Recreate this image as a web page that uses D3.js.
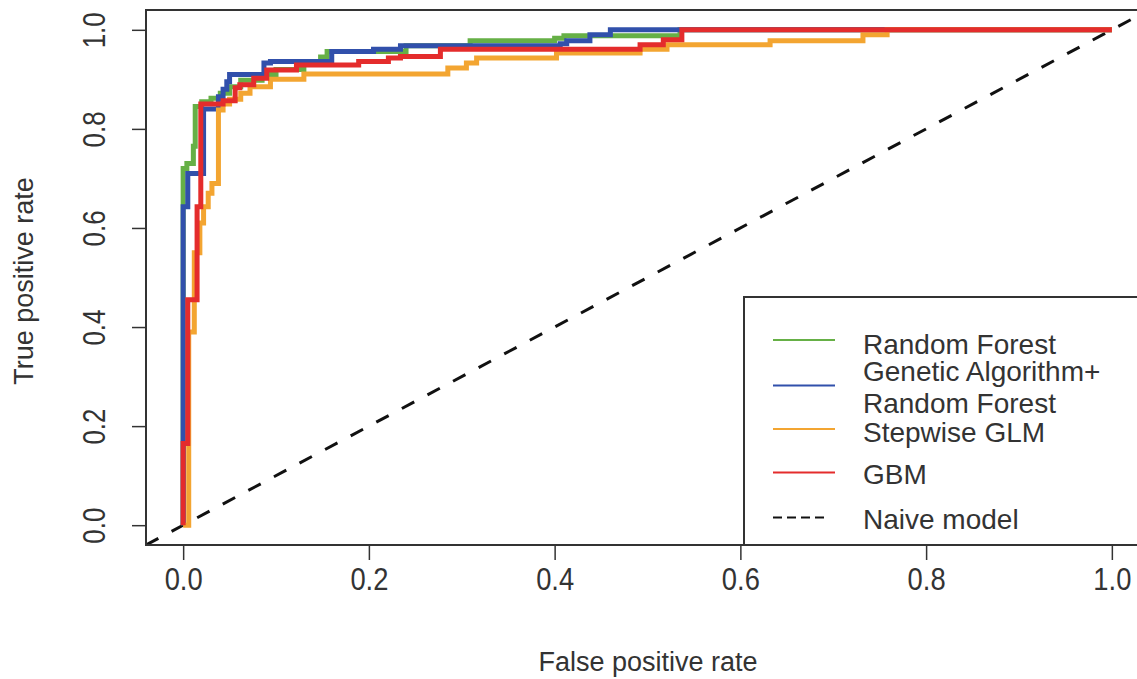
<!DOCTYPE html>
<html>
<head>
<meta charset="utf-8">
<script src="https://cdn.jsdelivr.net/npm/d3@7"></script>
<style>
  body { margin: 0; background: #fff; }
  text { font-family: "Liberation Sans", Arial, sans-serif; fill: #333; }
</style>
</head>
<body>
<svg width="1137" height="679"></svg>
<script>
// tick values on both axes
var tickVals = [0, 0.2, 0.4, 0.6, 0.8, 1.0];
var tickLabels = ["0.0", "0.2", "0.4", "0.6", "0.8", "1.0"];

// ROC corner points [fpr, tpr]
var rfPts = [[0,0],[0,0.72],[0.004,0.72],[0.004,0.73],[0.011,0.73],[0.011,0.765],[0.013,0.765],[0.013,0.845],
  [0.02,0.845],[0.02,0.855],[0.03,0.855],[0.03,0.862],[0.04,0.862],[0.04,0.872],[0.05,0.872],[0.05,0.885],
  [0.062,0.885],[0.062,0.898],[0.085,0.898],[0.085,0.91],[0.1,0.91],[0.1,0.92],[0.13,0.92],[0.13,0.93],
  [0.148,0.93],[0.148,0.945],[0.155,0.945],[0.155,0.956],[0.24,0.956],[0.24,0.968],[0.309,0.968],[0.309,0.978],
  [0.4,0.978],[0.4,0.983],[0.41,0.983],[0.41,0.988],[0.535,0.988],[0.535,1],[1,1]];

var gaRfPts = [[0,0],[0,0.643],[0.005,0.643],[0.005,0.71],[0.022,0.71],[0.022,0.84],[0.038,0.84],[0.038,0.865],
  [0.043,0.865],[0.043,0.88],[0.047,0.88],[0.047,0.895],[0.05,0.895],[0.05,0.91],[0.087,0.91],[0.087,0.933],
  [0.094,0.933],[0.094,0.936],[0.16,0.936],[0.16,0.956],[0.205,0.956],[0.205,0.961],[0.234,0.961],[0.234,0.968],
  [0.406,0.968],[0.406,0.972],[0.413,0.972],[0.413,0.978],[0.438,0.978],[0.438,0.99],[0.46,0.99],[0.46,1],[1,1]];

var glmPts = [[0,0],[0.006,0],[0.006,0.39],[0.012,0.39],[0.012,0.55],[0.018,0.55],[0.018,0.61],[0.022,0.61],
  [0.022,0.643],[0.027,0.643],[0.027,0.67],[0.031,0.67],[0.031,0.69],[0.038,0.69],[0.038,0.838],[0.043,0.838],
  [0.043,0.85],[0.05,0.85],[0.05,0.86],[0.062,0.86],[0.062,0.872],[0.072,0.872],[0.072,0.885],[0.094,0.885],
  [0.094,0.9],[0.13,0.9],[0.13,0.911],[0.285,0.911],[0.285,0.923],[0.305,0.923],[0.305,0.933],[0.316,0.933],
  [0.316,0.943],[0.402,0.943],[0.402,0.953],[0.492,0.953],[0.492,0.961],[0.521,0.961],[0.521,0.97],[0.632,0.97],
  [0.632,0.978],[0.732,0.978],[0.732,0.99],[0.758,0.99],[0.758,1],[1,1]];

var gbmPts = [[0,0],[0,0.165],[0.005,0.165],[0.005,0.455],[0.015,0.455],[0.015,0.643],[0.019,0.643],[0.019,0.85],
  [0.043,0.85],[0.043,0.857],[0.056,0.857],[0.056,0.883],[0.061,0.883],[0.061,0.889],[0.076,0.889],[0.076,0.902],
  [0.09,0.902],[0.09,0.919],[0.122,0.919],[0.122,0.929],[0.189,0.929],[0.189,0.936],[0.221,0.936],[0.221,0.943],
  [0.234,0.943],[0.234,0.946],[0.277,0.946],[0.277,0.961],[0.492,0.961],[0.492,0.97],[0.517,0.97],[0.517,0.98],
  [0.537,0.98],[0.537,1],[1,1]];

var naivePts = [[-0.04,-0.04],[1.04,1.04]];

var seriesNames = ["Random Forest", "Genetic Algorithm+\nRandom Forest", "Stepwise GLM", "GBM", "Naive model"];
var seriesColors = ["#66b046", "#3150ab", "#f3a531", "#e42c2c", "#111"];

var svg = d3.select("svg"),
    width = +svg.attr("width"),
    height = +svg.attr("height");

// R style 4% padding around 0..1
var x = d3.scaleLinear().domain([-0.04, 1.04]).range([146, 1149]);
var y = d3.scaleLinear().domain([-0.04, 1.04]).range([545, 10]);

svg.append("defs").append("clipPath").attr("id", "plotclip")
  .append("rect").attr("x", 146).attr("y", 10).attr("width", 1003).attr("height", 535);

var line = d3.line()
    .x(function(d) { return x(d[0]); })
    .y(function(d) { return y(d[1]); });

var plot = svg.append("g").attr("clip-path", "url(#plotclip)");

// naive model diagonal
plot.append("path")
    .datum(naivePts)
    .attr("d", line)
    .attr("fill", "none")
    .attr("stroke", "#111")
    .attr("stroke-width", 3)
    .attr("stroke-dasharray", "14,15");

var curves = [rfPts, gaRfPts, glmPts, gbmPts];
plot.selectAll("path.roc")
  .data(curves)
  .enter().append("path")
    .attr("class", "roc")
    .attr("d", line)
    .attr("fill", "none")
    .attr("stroke", function(d, i) { return seriesColors[i]; })
    .attr("stroke-width", 5)
    .attr("stroke-linejoin", "miter");

// axes
var xAxis = svg.append("g")
    .attr("transform", "translate(0,545)")
    .call(d3.axisBottom(x).tickValues(tickVals).tickSize(15).tickFormat(function(d, i) { return tickLabels[i]; }));
xAxis.select(".domain").remove();
xAxis.selectAll("line").attr("stroke", "#333").attr("stroke-width", 1.5);
xAxis.selectAll("text")
    .attr("y", 45).attr("dy", null)
    .attr("font-size", 31)
    .attr("fill", "#333")
    .attr("textLength", 38).attr("lengthAdjust", "spacingAndGlyphs");

var yAxis = svg.append("g")
    .attr("transform", "translate(146,0)")
    .call(d3.axisLeft(y).tickValues(tickVals).tickSize(14).tickFormat(function(d, i) { return tickLabels[i]; }));
yAxis.select(".domain").remove();
yAxis.selectAll("line").attr("stroke", "#333").attr("stroke-width", 1.5);
yAxis.selectAll("text")
    .attr("x", null).attr("dy", null)
    .attr("text-anchor", "middle")
    .attr("font-size", 31)
    .attr("fill", "#333")
    .attr("textLength", 36).attr("lengthAdjust", "spacingAndGlyphs")
    .attr("transform", "translate(-41,0) rotate(-90)");

// plot box
svg.append("rect")
    .attr("x", 146).attr("y", 10)
    .attr("width", 1003).attr("height", 535)
    .attr("fill", "none")
    .attr("stroke", "#333")
    .attr("stroke-width", 2);

// axis titles
svg.append("text")
    .attr("x", 648).attr("y", 671)
    .attr("text-anchor", "middle")
    .attr("font-size", 27)
    .text("False positive rate");

svg.append("text")
    .attr("transform", "translate(33,281) rotate(-90)")
    .attr("text-anchor", "middle")
    .attr("font-size", 27)
    .text("True positive rate");

// legend
var legend = svg.append("g");
legend.append("rect")
    .attr("x", 744).attr("y", 297)
    .attr("width", 420).attr("height", 248)
    .attr("fill", "#fff")
    .attr("stroke", "#333")
    .attr("stroke-width", 2);

var legLineY = [340, 385.5, 429, 472.5, 517.5];
var legTextY = [[354], [380.5, 413], [442], [484], [529]];

legend.selectAll("line.key")
  .data(seriesNames)
  .enter().append("line")
    .attr("class", "key")
    .attr("x1", 773).attr("x2", function(d, i) { return i == 4 ? 829 : 835; })
    .attr("y1", function(d, i) { return legLineY[i]; })
    .attr("y2", function(d, i) { return legLineY[i]; })
    .attr("stroke", function(d, i) { return seriesColors[i]; })
    .attr("stroke-width", 1.8)
    .attr("stroke-dasharray", function(d, i) { return i == 4 ? "9,5" : null; });

seriesNames.forEach(function(name, i) {
  name.split("\n").forEach(function(part, j) {
    legend.append("text")
        .attr("x", 863)
        .attr("y", legTextY[i][j])
        .attr("font-size", 28)
        .text(part);
  });
});
</script>
</body>
</html>
